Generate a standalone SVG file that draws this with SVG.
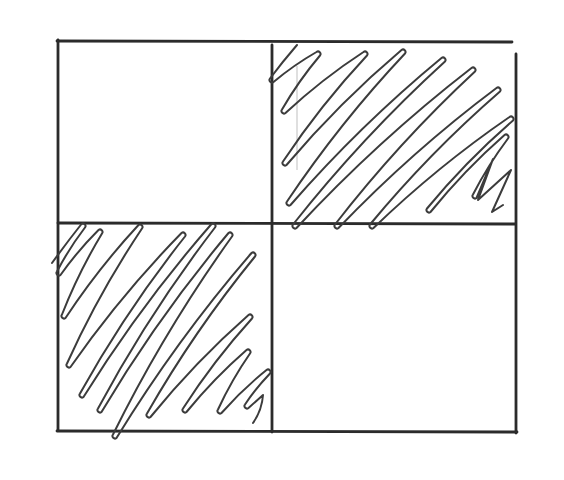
<svg xmlns="http://www.w3.org/2000/svg" width="564" height="480" viewBox="0 0 564 480">
<style>
.grid{stroke:#2b2b2b;stroke-width:2.8;fill:none;stroke-linecap:round}
.scrib{stroke:#3c3c3c;stroke-width:2;fill:none;stroke-linejoin:round;stroke-linecap:round}
.faint{stroke:#d4d4d4;stroke-width:1.5;fill:none}
</style>
<rect width="564" height="480" fill="#ffffff"/>
<g id="grid">
<line class="grid" x1="57" y1="41" x2="512" y2="42"/>
<line class="grid" x1="58" y1="40" x2="58" y2="430"/>
<line class="grid" x1="272" y1="45" x2="272" y2="432"/>
<line class="grid" x1="516" y1="54" x2="516" y2="433"/>
<line class="grid" x1="58" y1="223" x2="515" y2="224"/>
<line class="grid" x1="57" y1="431" x2="517" y2="432"/>
</g>
<g id="top-right-hatch">
<line class="faint" x1="297" y1="66" x2="297" y2="170"/>
<path class="scrib" d="M297,45 Q282,62.4 270,78.5 A2.5,2.5 0 0 0 273.5,82 Q293.8,65 316.5,52 A2.5,2.5 0 0 1 320,55.5 Q298.5,81 282,109.5 A2.5,2.5 0 0 0 285.5,113 Q322,79.1 363.5,52 A2.5,2.5 0 0 1 367,55.5 Q320.5,105.2 283,161.5 A2.5,2.5 0 0 0 286.5,165 Q339.4,102.6 401.5,50 A2.5,2.5 0 0 1 405,53.5 Q339.8,122.8 287,201.5 A2.5,2.5 0 0 0 290.5,205 Q360.1,125.2 441.5,58 A2.5,2.5 0 0 1 445,61.5 Q362.2,136.9 293,224.5 A2.5,2.5 0 0 0 296.5,228 Q377.6,140.7 471.5,68 A2.5,2.5 0 0 1 475,71.5 Q398.6,142.4 335,224.5 A2.5,2.5 0 0 0 338.5,228 Q411.9,151.4 496.5,88 A2.5,2.5 0 0 1 500,91.5 Q429.4,152.8 370,224.5 A2.5,2.5 0 0 0 373.5,228 Q437,166.8 509.5,117 A2.5,2.5 0 0 1 513,120.5 Q466.2,161 427,208.5 A2.5,2.5 0 0 0 430.5,212 Q464.4,170.2 504.5,135 A2.5,2.5 0 0 1 508,138.5 Q488,165.1 473,194.5 A2.5,2.5 0 0 0 476.5,198 L493,159 L478,200 L511,170 L492,212 L503,205"/>
</g>
<g id="bottom-left-hatch">
<path class="scrib" d="M52,263 Q67,242.2 81.5,224 A2.5,2.5 0 0 1 85,227.5 Q69,248.4 57,271.5 A2.5,2.5 0 0 0 60.5,275 Q77.7,250.7 98.5,230 A2.5,2.5 0 0 1 102,233.5 Q78.5,272.4 62,314.5 A2.5,2.5 0 0 0 65.5,318 Q98.3,268.3 138.5,225 A2.5,2.5 0 0 1 142,228.5 Q98.8,293 67,363.5 A2.5,2.5 0 0 0 70.5,367 Q120.6,295.3 181.5,233 A2.5,2.5 0 0 1 185,236.5 Q126,310.8 80,393.5 A2.5,2.5 0 0 0 83.5,397 Q140.6,305.1 211.5,224 A2.5,2.5 0 0 1 215,227.5 Q149,313.3 98,408.5 A2.5,2.5 0 0 0 101.5,412 Q157.8,317.2 228.5,233 A2.5,2.5 0 0 1 232,236.5 Q164.3,330.8 113,434.5 A2.5,2.5 0 0 0 116.5,438 Q176.6,339.8 251.5,253 A2.5,2.5 0 0 1 255,256.5 Q194.4,330.7 147,413.5 A2.5,2.5 0 0 0 150.5,417 Q195.4,361.8 248.5,315 A2.5,2.5 0 0 1 252,318.5 Q213.6,360.8 183,408.5 A2.5,2.5 0 0 0 186.5,412 Q214,378.3 246.5,350 A2.5,2.5 0 0 1 250,353.5 Q231.5,380.2 218,409.5 A2.5,2.5 0 0 0 221.5,413 Q242.3,389.4 266.5,370 A2.5,2.5 0 0 1 270,373.5 Q256,388 245,404.5 A2.5,2.5 0 0 0 248.5,408 L263,395 Q262,410 253,423"/>
</g>
</svg>
